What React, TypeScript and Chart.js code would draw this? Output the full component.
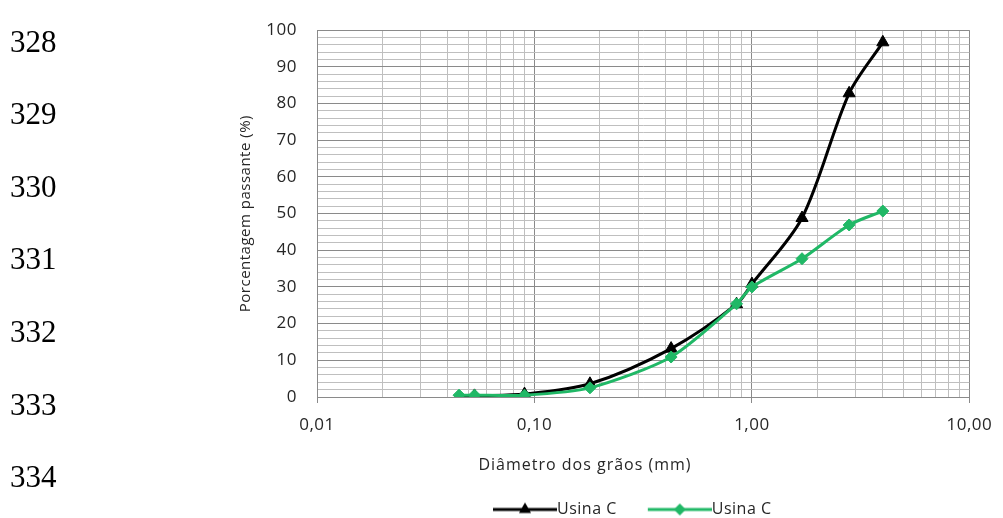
import React, { useEffect, useRef } from 'react';
import { Chart, registerables } from 'chart.js';

Chart.register(...registerables);

// ---- data ----
const lineNumbers = ['328', '329', '330', '331', '332', '333', '334'];
const diameters = [0.045, 0.053, 0.09, 0.18, 0.425, 0.85, 1.0, 1.7, 2.8, 4.0];
const usinaBlack = [0, 0.3, 0.8, 3.6, 13.2, 25.3, 30.8, 48.8, 82.8, 96.7];
const usinaGreen = [0.5, 0.5, 0.5, 2.5, 10.9, 25.4, 30.0, 37.7, 46.9, 50.7];
const seriesNames = ['Usina C', 'Usina C'];
const xDecades = [0.01, 0.1, 1, 10];
const xTickLabels = ['0,01', '0,10', '1,00', '10,00'];
const yLabelValues = [0, 10, 20, 30, 40, 50, 60, 70, 80, 90, 100];
const yMinorStep = 2;
const xTitle = 'Diâmetro dos grãos (mm)';
const yTitle = 'Porcentagem passante (%)';

// grid tick positions (structure of the log paper)
const xGridValues: number[] = [];
for (let e = -2; e <= 0; e++) {
  for (let m = 1; m <= 9; m++) xGridValues.push(Number((m * Math.pow(10, e)).toPrecision(3)));
}
xGridValues.push(10);
const yGridValues: number[] = [];
for (let v = 0; v <= 100; v += yMinorStep) yGridValues.push(v);

// ---- style ----
const FONT = '"Open Sans", "Noto Sans", sans-serif';
const TEXT = '#262626';
const MAJOR = '#8a8a8a';
const MINOR = '#bfbfbf';
const BLACK = '#000000';
const GREEN = '#20b866';

const PAD_LEFT = 236.6;
const PLOT_LEFT = 317;
const PLOT_BOTTOM = 397;

const LEG_FS = 16;
const LEG_P = 10;
const LEG_B = 77;
const LEG_LINE = 64;

function legendImage(color: string, kind: 'triangle' | 'diamond') {
  const half = LEG_FS / 2;
  const H = LEG_B / 2 + half;
  const W = Math.round(2 * H);
  const c = document.createElement('canvas');
  c.width = W;
  c.height = 20;
  const g = c.getContext('2d')!;
  const lineStart = W - LEG_LINE;
  g.strokeStyle = color;
  g.lineWidth = 3;
  g.beginPath();
  g.moveTo(lineStart, 10);
  g.lineTo(W, 10);
  g.stroke();
  const cx = lineStart + LEG_LINE / 2;
  const cy = 10;
  g.fillStyle = color;
  g.beginPath();
  if (kind === 'triangle') {
    const r = 7;
    let a = 0;
    g.moveTo(cx + Math.sin(a) * r, cy - Math.cos(a) * r);
    a += (2 * Math.PI) / 3;
    g.lineTo(cx + Math.sin(a) * r, cy - Math.cos(a) * r);
    a += (2 * Math.PI) / 3;
    g.lineTo(cx + Math.sin(a) * r, cy - Math.cos(a) * r);
  } else {
    const r = 6;
    g.moveTo(cx - r, cy);
    g.lineTo(cx, cy - r);
    g.lineTo(cx + r, cy);
    g.lineTo(cx, cy + r);
  }
  g.closePath();
  g.fill();
  return c;
}

export default function App() {
  const ref = useRef<HTMLCanvasElement | null>(null);

  useEffect(() => {
    if (!ref.current) return;
    const imgBlack = legendImage(BLACK, 'triangle');
    const imgGreen = legendImage(GREEN, 'diamond');

    const overlay = {
      id: 'overlay',
      afterLayout(chart: any) {
        const lg = chart.legend;
        if (lg) {
          lg.left = 493 - (LEG_B + LEG_FS / 2 - LEG_LINE) - LEG_P;
          lg.right = 1003;
          lg.top = 509.5 - LEG_P - LEG_FS / 2;
          lg.bottom = lg.top + lg.height;
        }
      },
      beforeDraw(chart: any) {
        (chart.ctx as any).letterSpacing = '0.5px';
      },
      afterDraw(chart: any) {
        const ctx = chart.ctx;
        ctx.save();
        (ctx as any).letterSpacing = '1px';
        ctx.font = `16px ${FONT}`;
        ctx.fillStyle = TEXT;
        ctx.textAlign = 'center';
        ctx.textBaseline = 'middle';
        ctx.fillText(xTitle, 585, 465);
        ctx.restore();
        (ctx as any).letterSpacing = '0px';
      },
    };

    const chart = new Chart(ref.current, {
      type: 'line',
      data: {
        datasets: [
          {
            label: seriesNames[0],
            data: diameters.map((d, i) => ({ x: d, y: usinaBlack[i] })),
            borderColor: BLACK,
            backgroundColor: BLACK,
            borderWidth: 3,
            pointStyle: 'triangle',
            pointRadius: 7,
            pointBorderWidth: 1,
            tension: 0.3,
            order: 2,
          },
          {
            label: seriesNames[1],
            data: diameters.map((d, i) => ({ x: d, y: usinaGreen[i] })),
            borderColor: GREEN,
            backgroundColor: GREEN,
            borderWidth: 3,
            pointStyle: 'rectRot',
            pointRadius: 6,
            pointBorderWidth: 1,
            tension: 0.25,
            order: 1,
          },
        ],
      },
      options: {
        responsive: false,
        animation: false,
        layout: { padding: { left: PAD_LEFT, right: 24, top: 18.5, bottom: 0 } },
        plugins: {
          tooltip: { enabled: false },
          legend: {
            position: 'bottom',
            align: 'start',
            labels: {
              usePointStyle: true,
              pointStyleWidth: LEG_B,
              padding: LEG_P,
              color: TEXT,
              font: { family: FONT, size: LEG_FS },
              generateLabels: () => [
                {
                  text: seriesNames[0],
                  pointStyle: imgBlack as any,
                  fillStyle: BLACK,
                  strokeStyle: BLACK,
                  lineWidth: 0,
                  hidden: false,
                  datasetIndex: 0,
                  fontColor: TEXT,
                } as any,
                {
                  text: seriesNames[1],
                  pointStyle: imgGreen as any,
                  fillStyle: GREEN,
                  strokeStyle: GREEN,
                  lineWidth: 0,
                  hidden: false,
                  datasetIndex: 1,
                  fontColor: TEXT,
                } as any,
              ],
            },
          },
        },
        scales: {
          x: {
            type: 'logarithmic',
            min: 0.01,
            max: 10,
            afterBuildTicks: (s: any) => {
              s.ticks = xGridValues.map((v) => ({ value: v, major: xDecades.includes(v) }));
            },
            afterFit: (s: any) => {
              const lh = s.chart.legend ? s.chart.legend.height : 0;
              s.height = s.chart.height - PLOT_BOTTOM - lh;
            },
            ticks: {
              autoSkip: false,
              maxRotation: 0,
              padding: 12,
              color: TEXT,
              font: { family: FONT, size: 17 },
              callback: (v: any) => {
                const i = xDecades.indexOf(Number(v));
                return i >= 0 ? xTickLabels[i] : '';
              },
            },
            grid: {
              color: (c: any) => (c.tick && xDecades.includes(c.tick.value) ? MAJOR : MINOR),
              tickColor: (c: any) => (c.tick && xDecades.includes(c.tick.value) ? MAJOR : 'rgba(0,0,0,0)'),
              tickLength: 6,
              lineWidth: 1,
            },
            border: { color: MAJOR, width: 1 },
          },
          y: {
            type: 'linear',
            min: 0,
            max: 100,
            afterBuildTicks: (s: any) => {
              s.ticks = yGridValues.map((v) => ({ value: v }));
            },
            afterFit: (s: any) => {
              s.width = PLOT_LEFT - PAD_LEFT;
            },
            ticks: {
              autoSkip: false,
              padding: 20,
              color: TEXT,
              font: { family: FONT, size: 17 },
              callback: (v: any) => (yLabelValues.includes(Number(v)) ? String(v) : ''),
            },
            grid: {
              drawTicks: false,
              color: (c: any) => (c.tick && yLabelValues.includes(c.tick.value) ? MAJOR : MINOR),
              lineWidth: 1,
            },
            border: { color: MAJOR, width: 1 },
            title: {
              display: true,
              text: yTitle,
              color: TEXT,
              font: { family: FONT, size: 15 },
              padding: { top: 0, bottom: 0 },
            },
          },
        },
      },
      plugins: [overlay],
    } as any);

    return () => chart.destroy();
  }, []);

  return (
    <div style={{ position: 'fixed', left: 0, top: 0, width: 1003, height: 518, background: '#fff', overflow: 'hidden' }}>
      <canvas ref={ref} width={1003} height={518} style={{ display: 'block', width: 1003, height: 518 }} />
      {lineNumbers.map((n, i) => (
        <div
          key={n}
          style={{
            position: 'absolute',
            left: 10,
            top: 51.6 + 72.6 * i - 26,
            fontFamily: '"Liberation Serif", "Times New Roman", serif',
            fontSize: 31,
            lineHeight: '31px',
            color: '#000',
          }}
        >
          {n}
        </div>
      ))}
    </div>
  );
}
